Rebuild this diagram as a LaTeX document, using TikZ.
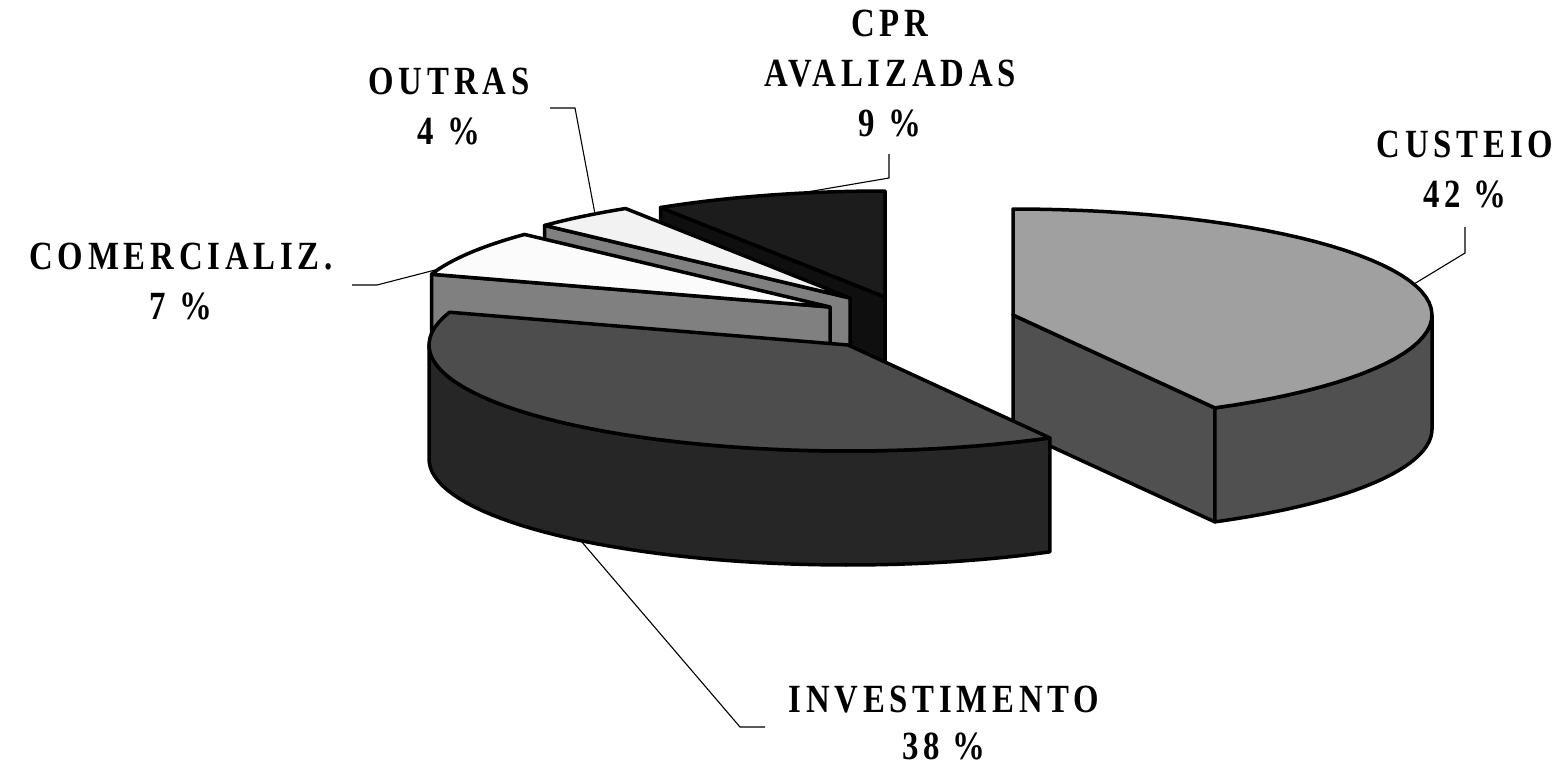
\documentclass[tikz,border=0pt]{standalone}
\usepackage{fontspec}
\setmainfont{Liberation Serif}
\newfontfamily\lblfont[FakeStretch=0.82,LetterSpace=12]{Liberation Serif}
\usetikzlibrary{calc}
\definecolor{cprtop}{HTML}{1C1C1C}
\definecolor{cprside}{HTML}{0F0F0F}
\definecolor{outtop}{HTML}{F2F2F2}
\definecolor{grayband}{HTML}{808080}
\definecolor{comtop}{HTML}{FBFBFB}
\definecolor{custop}{HTML}{A0A0A0}
\definecolor{cusside}{HTML}{505050}
\definecolor{invtop}{HTML}{4D4D4D}
\definecolor{invside}{HTML}{262626}
\def\RX{419}\def\RY{106}\def\D{114}
\newcommand{\slicetop}[5]{\path[face,fill=#5] (#1,#2) -- plot[variable=\t,domain=#3:#4,samples=50] ({#1+\RX*sin(\t)},{#2-\RY*cos(\t)}) -- cycle;}
\newcommand{\sliceradial}[4]{\path[face,fill=#4] (#1,#2) -- ({#1+\RX*sin(#3)},{#2-\RY*cos(#3)}) -- ++(0,\D) -- ({#1},{#2+\D}) -- cycle;}
\newcommand{\slicecurve}[5]{\path[face,fill=#5] plot[variable=\t,domain=#3:#4,samples=50] ({#1+\RX*sin(\t)},{#2-\RY*cos(\t)}) -- plot[variable=\t,domain=#4:#3,samples=50] ({#1+\RX*sin(\t)},{#2+\D-\RY*cos(\t)}) -- cycle;}
\tikzset{
  face/.style={draw=black,line width=3.5pt,line join=round},
  leader/.style={draw=black,line width=1.1pt},
  lbl/.style={font=\lblfont\bfseries\fontsize{40}{50}\selectfont,align=center,anchor=north,inner sep=0pt},
}
\begin{document}
\begin{tikzpicture}[x=1pt,y=-1pt]
\useasboundingbox[fill=white] (0,0) rectangle (1560,768);
% CPR AVALIZADAS
\sliceradial{885}{297}{327.6}{cprside}
\slicetop{885}{297}{327.6}{360}{cprtop}
% OUTRAS
\sliceradial{850}{298}{313.2}{grayband}
\slicetop{850}{298}{313.2}{327.6}{outtop}
% COMERCIALIZ.
\sliceradial{830}{307}{288}{grayband}
\slicetop{830}{307}{288}{313.2}{comtop}
% CUSTEIO
\sliceradial{1013}{315}{151.2}{cusside}
\slicecurve{1013}{315}{90}{151.2}{cusside}
\slicetop{1013}{315}{0}{151.2}{custop}
% INVESTIMENTO
\slicecurve{848}{345}{151.2}{270}{invside}
\slicetop{848}{345}{151.2}{288}{invtop}
% labels
\node[lbl] (cprL) at (890,10) {CPR\\AVALIZADAS\\9 \%};
\node[lbl] (outL) at (449,68) {OUTRAS\\4 \%};
\node[lbl] (comL) at (181,243) {COMERCIALIZ.\\7 \%};
\node[lbl] (cusL) at (1465,131) {CUSTEIO\\42 \%};
\node[lbl,font=\lblfont\bfseries\fontsize{40}{47}\selectfont] (invL) at (944,686) {INVESTIMENTO\\38 \%};
% leader coordinates
\coordinate (cusA) at (1414,284);
\coordinate (cusB) at (1465,253);
\coordinate (cusC) at (1465,227);
\coordinate (invA) at (581,541);
\coordinate (invB) at (740,727);
\coordinate (invC) at (765,727);
\coordinate (comA) at (439,269);
\coordinate (comB) at (377,285);
\coordinate (comC) at (352,285);
\coordinate (outA) at (595,214);
\coordinate (outB) at (575,108);
\coordinate (outC) at (550,108);
\coordinate (cprA) at (807,192);
\coordinate (cprB) at (889,178);
\coordinate (cprC) at (889,154);
\draw[leader] (cusA) -- (cusB) -- (cusC);
\draw[leader] (invA) -- (invB) -- (invC);
\draw[leader] (comA) -- (comB) -- (comC);
\draw[leader] (outA) -- (outB) -- (outC);
\draw[leader] (cprA) -- (cprB) -- (cprC);
\end{tikzpicture}
\end{document}
